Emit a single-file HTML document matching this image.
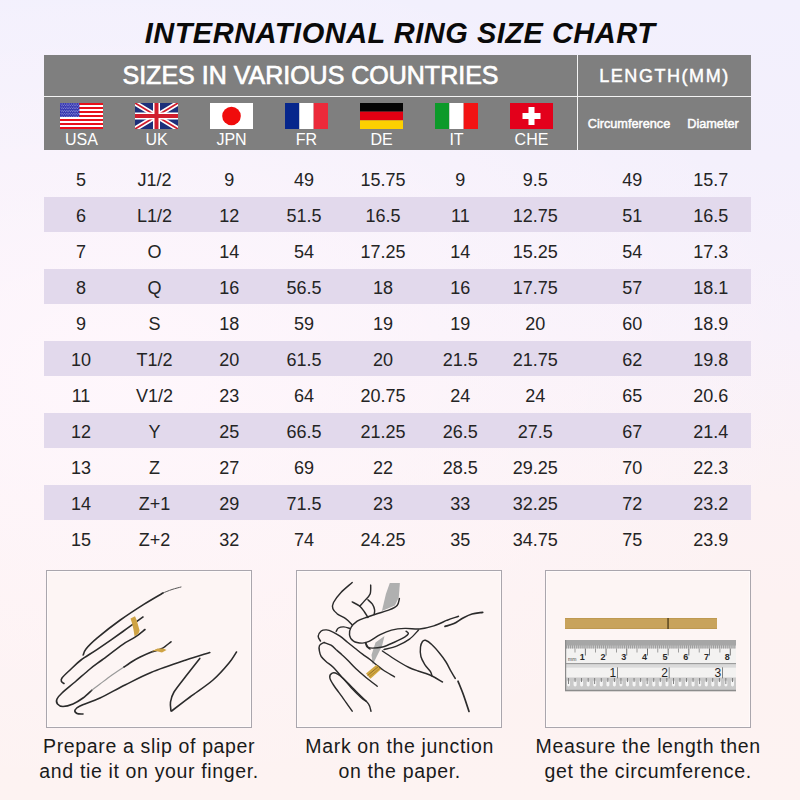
<!DOCTYPE html><html><head><meta charset="utf-8"><style>
*{margin:0;padding:0;box-sizing:border-box}
html,body{width:800px;height:800px;overflow:hidden}
body{position:relative;font-family:'Liberation Sans', sans-serif;color:#1e1e1e;
background:radial-gradient(ellipse 700px 420px at 120px 370px,rgba(255,247,252,0.95),rgba(255,247,252,0.5) 45%,rgba(255,247,252,0) 100%),linear-gradient(180deg,#f2f0fd 0%,#f4f0fc 20%,#f8f1fa 42%,#fcf2f4 62%,#fdf2f2 75%,#fdf3f2 100%);}
.a{position:absolute;white-space:nowrap}
.c{position:absolute;white-space:nowrap;text-align:center;width:200px}

</style></head><body>
<div class="c" style="left:0;width:800px;top:19px;font:italic bold 29px/29px 'Liberation Sans', sans-serif;color:#0a0a0a;letter-spacing:0.5px;padding-left:0px">INTERNATIONAL RING SIZE CHART</div>
<div class="a" style="left:44px;top:55px;width:707px;height:95px;background:#7f7f7f"></div>
<div class="a" style="left:44px;top:96px;width:707px;height:1.2px;background:#f4f4f4"></div>
<div class="a" style="left:577px;top:55px;width:1.3px;height:95px;background:#f4f4f4"></div>
<div class="c" style="left:44px;width:533px;top:63px;font:25px/25px 'Liberation Sans', sans-serif;color:#fff;-webkit-text-stroke:0.7px #fff">SIZES IN VARIOUS COUNTRIES</div>
<div class="c" style="left:578px;width:173px;top:67px;font:18px/18px 'Liberation Sans', sans-serif;letter-spacing:1.55px;padding-left:0px;color:#fff;-webkit-text-stroke:0.45px #fff">LENGTH(MM)</div>
<div class="c" style="left:529px;width:200px;top:118px;font:12.7px/12px 'Liberation Sans', sans-serif;color:#fff;-webkit-text-stroke:0.45px #fff">Circumference</div>
<div class="c" style="left:613px;width:200px;top:118px;font:12.7px/12px 'Liberation Sans', sans-serif;color:#fff;-webkit-text-stroke:0.45px #fff">Diameter</div>
<div class="c" style="left:-18.5px;top:131.5px;font:16px/16px 'Liberation Sans', sans-serif;color:#fff">USA</div>
<div class="c" style="left:56.5px;top:131.5px;font:16px/16px 'Liberation Sans', sans-serif;color:#fff">UK</div>
<div class="c" style="left:131.5px;top:131.5px;font:16px/16px 'Liberation Sans', sans-serif;color:#fff">JPN</div>
<div class="c" style="left:206.5px;top:131.5px;font:16px/16px 'Liberation Sans', sans-serif;color:#fff">FR</div>
<div class="c" style="left:281.5px;top:131.5px;font:16px/16px 'Liberation Sans', sans-serif;color:#fff">DE</div>
<div class="c" style="left:356.5px;top:131.5px;font:16px/16px 'Liberation Sans', sans-serif;color:#fff">IT</div>
<div class="c" style="left:431.5px;top:131.5px;font:16px/16px 'Liberation Sans', sans-serif;color:#fff">CHE</div>
<svg class="a" style="left:60px;top:103px" width="43" height="26" viewBox="0 0 43 26"><rect x="0" y="0.00" width="43" height="2.30" fill="#e8101a"/><rect x="0" y="2.00" width="43" height="2.30" fill="#ffffff"/><rect x="0" y="4.00" width="43" height="2.30" fill="#e8101a"/><rect x="0" y="6.00" width="43" height="2.30" fill="#ffffff"/><rect x="0" y="8.00" width="43" height="2.30" fill="#e8101a"/><rect x="0" y="10.00" width="43" height="2.30" fill="#ffffff"/><rect x="0" y="12.00" width="43" height="2.30" fill="#e8101a"/><rect x="0" y="14.00" width="43" height="2.30" fill="#ffffff"/><rect x="0" y="16.00" width="43" height="2.30" fill="#e8101a"/><rect x="0" y="18.00" width="43" height="2.30" fill="#ffffff"/><rect x="0" y="20.00" width="43" height="2.30" fill="#e8101a"/><rect x="0" y="22.00" width="43" height="2.30" fill="#ffffff"/><rect x="0" y="24.00" width="43" height="2.30" fill="#e8101a"/><rect x="0" y="0" width="19.4" height="14.00" fill="#3537b0"/><circle cx="1.00" cy="1.00" r="0.42" fill="#e8e8ff"/><circle cx="2.75" cy="1.00" r="0.42" fill="#e8e8ff"/><circle cx="4.50" cy="1.00" r="0.42" fill="#e8e8ff"/><circle cx="6.25" cy="1.00" r="0.42" fill="#e8e8ff"/><circle cx="8.00" cy="1.00" r="0.42" fill="#e8e8ff"/><circle cx="9.75" cy="1.00" r="0.42" fill="#e8e8ff"/><circle cx="11.50" cy="1.00" r="0.42" fill="#e8e8ff"/><circle cx="13.25" cy="1.00" r="0.42" fill="#e8e8ff"/><circle cx="15.00" cy="1.00" r="0.42" fill="#e8e8ff"/><circle cx="16.75" cy="1.00" r="0.42" fill="#e8e8ff"/><circle cx="18.50" cy="1.00" r="0.42" fill="#e8e8ff"/><circle cx="1.87" cy="2.55" r="0.42" fill="#e8e8ff"/><circle cx="3.62" cy="2.55" r="0.42" fill="#e8e8ff"/><circle cx="5.37" cy="2.55" r="0.42" fill="#e8e8ff"/><circle cx="7.12" cy="2.55" r="0.42" fill="#e8e8ff"/><circle cx="8.87" cy="2.55" r="0.42" fill="#e8e8ff"/><circle cx="10.62" cy="2.55" r="0.42" fill="#e8e8ff"/><circle cx="12.37" cy="2.55" r="0.42" fill="#e8e8ff"/><circle cx="14.12" cy="2.55" r="0.42" fill="#e8e8ff"/><circle cx="15.87" cy="2.55" r="0.42" fill="#e8e8ff"/><circle cx="17.62" cy="2.55" r="0.42" fill="#e8e8ff"/><circle cx="1.00" cy="4.10" r="0.42" fill="#e8e8ff"/><circle cx="2.75" cy="4.10" r="0.42" fill="#e8e8ff"/><circle cx="4.50" cy="4.10" r="0.42" fill="#e8e8ff"/><circle cx="6.25" cy="4.10" r="0.42" fill="#e8e8ff"/><circle cx="8.00" cy="4.10" r="0.42" fill="#e8e8ff"/><circle cx="9.75" cy="4.10" r="0.42" fill="#e8e8ff"/><circle cx="11.50" cy="4.10" r="0.42" fill="#e8e8ff"/><circle cx="13.25" cy="4.10" r="0.42" fill="#e8e8ff"/><circle cx="15.00" cy="4.10" r="0.42" fill="#e8e8ff"/><circle cx="16.75" cy="4.10" r="0.42" fill="#e8e8ff"/><circle cx="18.50" cy="4.10" r="0.42" fill="#e8e8ff"/><circle cx="1.87" cy="5.65" r="0.42" fill="#e8e8ff"/><circle cx="3.62" cy="5.65" r="0.42" fill="#e8e8ff"/><circle cx="5.37" cy="5.65" r="0.42" fill="#e8e8ff"/><circle cx="7.12" cy="5.65" r="0.42" fill="#e8e8ff"/><circle cx="8.87" cy="5.65" r="0.42" fill="#e8e8ff"/><circle cx="10.62" cy="5.65" r="0.42" fill="#e8e8ff"/><circle cx="12.37" cy="5.65" r="0.42" fill="#e8e8ff"/><circle cx="14.12" cy="5.65" r="0.42" fill="#e8e8ff"/><circle cx="15.87" cy="5.65" r="0.42" fill="#e8e8ff"/><circle cx="17.62" cy="5.65" r="0.42" fill="#e8e8ff"/><circle cx="1.00" cy="7.20" r="0.42" fill="#e8e8ff"/><circle cx="2.75" cy="7.20" r="0.42" fill="#e8e8ff"/><circle cx="4.50" cy="7.20" r="0.42" fill="#e8e8ff"/><circle cx="6.25" cy="7.20" r="0.42" fill="#e8e8ff"/><circle cx="8.00" cy="7.20" r="0.42" fill="#e8e8ff"/><circle cx="9.75" cy="7.20" r="0.42" fill="#e8e8ff"/><circle cx="11.50" cy="7.20" r="0.42" fill="#e8e8ff"/><circle cx="13.25" cy="7.20" r="0.42" fill="#e8e8ff"/><circle cx="15.00" cy="7.20" r="0.42" fill="#e8e8ff"/><circle cx="16.75" cy="7.20" r="0.42" fill="#e8e8ff"/><circle cx="18.50" cy="7.20" r="0.42" fill="#e8e8ff"/><circle cx="1.87" cy="8.75" r="0.42" fill="#e8e8ff"/><circle cx="3.62" cy="8.75" r="0.42" fill="#e8e8ff"/><circle cx="5.37" cy="8.75" r="0.42" fill="#e8e8ff"/><circle cx="7.12" cy="8.75" r="0.42" fill="#e8e8ff"/><circle cx="8.87" cy="8.75" r="0.42" fill="#e8e8ff"/><circle cx="10.62" cy="8.75" r="0.42" fill="#e8e8ff"/><circle cx="12.37" cy="8.75" r="0.42" fill="#e8e8ff"/><circle cx="14.12" cy="8.75" r="0.42" fill="#e8e8ff"/><circle cx="15.87" cy="8.75" r="0.42" fill="#e8e8ff"/><circle cx="17.62" cy="8.75" r="0.42" fill="#e8e8ff"/><circle cx="1.00" cy="10.30" r="0.42" fill="#e8e8ff"/><circle cx="2.75" cy="10.30" r="0.42" fill="#e8e8ff"/><circle cx="4.50" cy="10.30" r="0.42" fill="#e8e8ff"/><circle cx="6.25" cy="10.30" r="0.42" fill="#e8e8ff"/><circle cx="8.00" cy="10.30" r="0.42" fill="#e8e8ff"/><circle cx="9.75" cy="10.30" r="0.42" fill="#e8e8ff"/><circle cx="11.50" cy="10.30" r="0.42" fill="#e8e8ff"/><circle cx="13.25" cy="10.30" r="0.42" fill="#e8e8ff"/><circle cx="15.00" cy="10.30" r="0.42" fill="#e8e8ff"/><circle cx="16.75" cy="10.30" r="0.42" fill="#e8e8ff"/><circle cx="18.50" cy="10.30" r="0.42" fill="#e8e8ff"/><circle cx="1.87" cy="11.85" r="0.42" fill="#e8e8ff"/><circle cx="3.62" cy="11.85" r="0.42" fill="#e8e8ff"/><circle cx="5.37" cy="11.85" r="0.42" fill="#e8e8ff"/><circle cx="7.12" cy="11.85" r="0.42" fill="#e8e8ff"/><circle cx="8.87" cy="11.85" r="0.42" fill="#e8e8ff"/><circle cx="10.62" cy="11.85" r="0.42" fill="#e8e8ff"/><circle cx="12.37" cy="11.85" r="0.42" fill="#e8e8ff"/><circle cx="14.12" cy="11.85" r="0.42" fill="#e8e8ff"/><circle cx="15.87" cy="11.85" r="0.42" fill="#e8e8ff"/><circle cx="17.62" cy="11.85" r="0.42" fill="#e8e8ff"/><circle cx="1.00" cy="13.40" r="0.42" fill="#e8e8ff"/><circle cx="2.75" cy="13.40" r="0.42" fill="#e8e8ff"/><circle cx="4.50" cy="13.40" r="0.42" fill="#e8e8ff"/><circle cx="6.25" cy="13.40" r="0.42" fill="#e8e8ff"/><circle cx="8.00" cy="13.40" r="0.42" fill="#e8e8ff"/><circle cx="9.75" cy="13.40" r="0.42" fill="#e8e8ff"/><circle cx="11.50" cy="13.40" r="0.42" fill="#e8e8ff"/><circle cx="13.25" cy="13.40" r="0.42" fill="#e8e8ff"/><circle cx="15.00" cy="13.40" r="0.42" fill="#e8e8ff"/><circle cx="16.75" cy="13.40" r="0.42" fill="#e8e8ff"/><circle cx="18.50" cy="13.40" r="0.42" fill="#e8e8ff"/></svg>
<svg class="a" style="left:135px;top:103px" width="43" height="26" viewBox="0 0 43 26"><rect width="43" height="26" fill="#1d2f7a"/><path d="M0 0L43 26M43 0L0 26" stroke="#fff" stroke-width="5"/><path d="M0 0L43 26M43 0L0 26" stroke="#d01c2c" stroke-width="1.8"/><path d="M21.5 0V26M0 13.0H43" stroke="#fff" stroke-width="7"/><path d="M21.5 0V26M0 13.0H43" stroke="#d01c2c" stroke-width="4"/></svg>
<svg class="a" style="left:210px;top:103px" width="43" height="26" viewBox="0 0 43 26"><rect width="43" height="26" fill="#fff"/><circle cx="21.5" cy="13.0" r="9.3" fill="#f00c0c"/></svg>
<svg class="a" style="left:285px;top:103px" width="43" height="26" viewBox="0 0 43 26"><rect width="14.33" height="26" fill="#06268c"/><rect x="14.33" width="14.33" height="26" fill="#fff"/><rect x="28.67" width="14.33" height="26" fill="#ec2a3a"/></svg>
<svg class="a" style="left:360px;top:103px" width="43" height="26" viewBox="0 0 43 26"><rect width="43" height="8.67" fill="#050505"/><rect y="8.67" width="43" height="8.67" fill="#e30012"/><rect y="17.33" width="43" height="8.67" fill="#fcd000"/></svg>
<svg class="a" style="left:435px;top:103px" width="43" height="26" viewBox="0 0 43 26"><rect width="14.33" height="26" fill="#0c9a2a"/><rect x="14.33" width="14.33" height="26" fill="#fff"/><rect x="28.67" width="14.33" height="26" fill="#f21313"/></svg>
<svg class="a" style="left:510px;top:103px" width="43" height="26" viewBox="0 0 43 26"><rect width="43" height="26" fill="#e3001b"/><rect x="18.5" y="4" width="6" height="18" fill="#fff"/><rect x="12.5" y="10.0" width="18" height="6" fill="#fff"/></svg>
<div class="c" style="left:-19.0px;top:171.3px;font:18px/18px 'Liberation Sans', sans-serif;color:#242424">5</div>
<div class="c" style="left:54.5px;top:171.3px;font:18px/18px 'Liberation Sans', sans-serif;color:#242424">J1/2</div>
<div class="c" style="left:129.3px;top:171.3px;font:18px/18px 'Liberation Sans', sans-serif;color:#242424">9</div>
<div class="c" style="left:204.0px;top:171.3px;font:18px/18px 'Liberation Sans', sans-serif;color:#242424">49</div>
<div class="c" style="left:283.0px;top:171.3px;font:18px/18px 'Liberation Sans', sans-serif;color:#242424">15.75</div>
<div class="c" style="left:360.3px;top:171.3px;font:18px/18px 'Liberation Sans', sans-serif;color:#242424">9</div>
<div class="c" style="left:435.3px;top:171.3px;font:18px/18px 'Liberation Sans', sans-serif;color:#242424">9.5</div>
<div class="c" style="left:532.3px;top:171.3px;font:18px/18px 'Liberation Sans', sans-serif;color:#242424">49</div>
<div class="c" style="left:610.8px;top:171.3px;font:18px/18px 'Liberation Sans', sans-serif;color:#242424">15.7</div>
<div class="a" style="left:44px;top:197.2px;width:707px;height:34.6px;background:#e2d9ec"></div>
<div class="c" style="left:-19.0px;top:207.3px;font:18px/18px 'Liberation Sans', sans-serif;color:#242424">6</div>
<div class="c" style="left:54.5px;top:207.3px;font:18px/18px 'Liberation Sans', sans-serif;color:#242424">L1/2</div>
<div class="c" style="left:129.3px;top:207.3px;font:18px/18px 'Liberation Sans', sans-serif;color:#242424">12</div>
<div class="c" style="left:204.0px;top:207.3px;font:18px/18px 'Liberation Sans', sans-serif;color:#242424">51.5</div>
<div class="c" style="left:283.0px;top:207.3px;font:18px/18px 'Liberation Sans', sans-serif;color:#242424">16.5</div>
<div class="c" style="left:360.3px;top:207.3px;font:18px/18px 'Liberation Sans', sans-serif;color:#242424">11</div>
<div class="c" style="left:435.3px;top:207.3px;font:18px/18px 'Liberation Sans', sans-serif;color:#242424">12.75</div>
<div class="c" style="left:532.3px;top:207.3px;font:18px/18px 'Liberation Sans', sans-serif;color:#242424">51</div>
<div class="c" style="left:610.8px;top:207.3px;font:18px/18px 'Liberation Sans', sans-serif;color:#242424">16.5</div>
<div class="c" style="left:-19.0px;top:243.3px;font:18px/18px 'Liberation Sans', sans-serif;color:#242424">7</div>
<div class="c" style="left:54.5px;top:243.3px;font:18px/18px 'Liberation Sans', sans-serif;color:#242424">O</div>
<div class="c" style="left:129.3px;top:243.3px;font:18px/18px 'Liberation Sans', sans-serif;color:#242424">14</div>
<div class="c" style="left:204.0px;top:243.3px;font:18px/18px 'Liberation Sans', sans-serif;color:#242424">54</div>
<div class="c" style="left:283.0px;top:243.3px;font:18px/18px 'Liberation Sans', sans-serif;color:#242424">17.25</div>
<div class="c" style="left:360.3px;top:243.3px;font:18px/18px 'Liberation Sans', sans-serif;color:#242424">14</div>
<div class="c" style="left:435.3px;top:243.3px;font:18px/18px 'Liberation Sans', sans-serif;color:#242424">15.25</div>
<div class="c" style="left:532.3px;top:243.3px;font:18px/18px 'Liberation Sans', sans-serif;color:#242424">54</div>
<div class="c" style="left:610.8px;top:243.3px;font:18px/18px 'Liberation Sans', sans-serif;color:#242424">17.3</div>
<div class="a" style="left:44px;top:269.2px;width:707px;height:34.6px;background:#e2d9ec"></div>
<div class="c" style="left:-19.0px;top:279.3px;font:18px/18px 'Liberation Sans', sans-serif;color:#242424">8</div>
<div class="c" style="left:54.5px;top:279.3px;font:18px/18px 'Liberation Sans', sans-serif;color:#242424">Q</div>
<div class="c" style="left:129.3px;top:279.3px;font:18px/18px 'Liberation Sans', sans-serif;color:#242424">16</div>
<div class="c" style="left:204.0px;top:279.3px;font:18px/18px 'Liberation Sans', sans-serif;color:#242424">56.5</div>
<div class="c" style="left:283.0px;top:279.3px;font:18px/18px 'Liberation Sans', sans-serif;color:#242424">18</div>
<div class="c" style="left:360.3px;top:279.3px;font:18px/18px 'Liberation Sans', sans-serif;color:#242424">16</div>
<div class="c" style="left:435.3px;top:279.3px;font:18px/18px 'Liberation Sans', sans-serif;color:#242424">17.75</div>
<div class="c" style="left:532.3px;top:279.3px;font:18px/18px 'Liberation Sans', sans-serif;color:#242424">57</div>
<div class="c" style="left:610.8px;top:279.3px;font:18px/18px 'Liberation Sans', sans-serif;color:#242424">18.1</div>
<div class="c" style="left:-19.0px;top:315.3px;font:18px/18px 'Liberation Sans', sans-serif;color:#242424">9</div>
<div class="c" style="left:54.5px;top:315.3px;font:18px/18px 'Liberation Sans', sans-serif;color:#242424">S</div>
<div class="c" style="left:129.3px;top:315.3px;font:18px/18px 'Liberation Sans', sans-serif;color:#242424">18</div>
<div class="c" style="left:204.0px;top:315.3px;font:18px/18px 'Liberation Sans', sans-serif;color:#242424">59</div>
<div class="c" style="left:283.0px;top:315.3px;font:18px/18px 'Liberation Sans', sans-serif;color:#242424">19</div>
<div class="c" style="left:360.3px;top:315.3px;font:18px/18px 'Liberation Sans', sans-serif;color:#242424">19</div>
<div class="c" style="left:435.3px;top:315.3px;font:18px/18px 'Liberation Sans', sans-serif;color:#242424">20</div>
<div class="c" style="left:532.3px;top:315.3px;font:18px/18px 'Liberation Sans', sans-serif;color:#242424">60</div>
<div class="c" style="left:610.8px;top:315.3px;font:18px/18px 'Liberation Sans', sans-serif;color:#242424">18.9</div>
<div class="a" style="left:44px;top:341.2px;width:707px;height:34.6px;background:#e2d9ec"></div>
<div class="c" style="left:-19.0px;top:351.3px;font:18px/18px 'Liberation Sans', sans-serif;color:#242424">10</div>
<div class="c" style="left:54.5px;top:351.3px;font:18px/18px 'Liberation Sans', sans-serif;color:#242424">T1/2</div>
<div class="c" style="left:129.3px;top:351.3px;font:18px/18px 'Liberation Sans', sans-serif;color:#242424">20</div>
<div class="c" style="left:204.0px;top:351.3px;font:18px/18px 'Liberation Sans', sans-serif;color:#242424">61.5</div>
<div class="c" style="left:283.0px;top:351.3px;font:18px/18px 'Liberation Sans', sans-serif;color:#242424">20</div>
<div class="c" style="left:360.3px;top:351.3px;font:18px/18px 'Liberation Sans', sans-serif;color:#242424">21.5</div>
<div class="c" style="left:435.3px;top:351.3px;font:18px/18px 'Liberation Sans', sans-serif;color:#242424">21.75</div>
<div class="c" style="left:532.3px;top:351.3px;font:18px/18px 'Liberation Sans', sans-serif;color:#242424">62</div>
<div class="c" style="left:610.8px;top:351.3px;font:18px/18px 'Liberation Sans', sans-serif;color:#242424">19.8</div>
<div class="c" style="left:-19.0px;top:387.3px;font:18px/18px 'Liberation Sans', sans-serif;color:#242424">11</div>
<div class="c" style="left:54.5px;top:387.3px;font:18px/18px 'Liberation Sans', sans-serif;color:#242424">V1/2</div>
<div class="c" style="left:129.3px;top:387.3px;font:18px/18px 'Liberation Sans', sans-serif;color:#242424">23</div>
<div class="c" style="left:204.0px;top:387.3px;font:18px/18px 'Liberation Sans', sans-serif;color:#242424">64</div>
<div class="c" style="left:283.0px;top:387.3px;font:18px/18px 'Liberation Sans', sans-serif;color:#242424">20.75</div>
<div class="c" style="left:360.3px;top:387.3px;font:18px/18px 'Liberation Sans', sans-serif;color:#242424">24</div>
<div class="c" style="left:435.3px;top:387.3px;font:18px/18px 'Liberation Sans', sans-serif;color:#242424">24</div>
<div class="c" style="left:532.3px;top:387.3px;font:18px/18px 'Liberation Sans', sans-serif;color:#242424">65</div>
<div class="c" style="left:610.8px;top:387.3px;font:18px/18px 'Liberation Sans', sans-serif;color:#242424">20.6</div>
<div class="a" style="left:44px;top:413.2px;width:707px;height:34.6px;background:#e2d9ec"></div>
<div class="c" style="left:-19.0px;top:423.3px;font:18px/18px 'Liberation Sans', sans-serif;color:#242424">12</div>
<div class="c" style="left:54.5px;top:423.3px;font:18px/18px 'Liberation Sans', sans-serif;color:#242424">Y</div>
<div class="c" style="left:129.3px;top:423.3px;font:18px/18px 'Liberation Sans', sans-serif;color:#242424">25</div>
<div class="c" style="left:204.0px;top:423.3px;font:18px/18px 'Liberation Sans', sans-serif;color:#242424">66.5</div>
<div class="c" style="left:283.0px;top:423.3px;font:18px/18px 'Liberation Sans', sans-serif;color:#242424">21.25</div>
<div class="c" style="left:360.3px;top:423.3px;font:18px/18px 'Liberation Sans', sans-serif;color:#242424">26.5</div>
<div class="c" style="left:435.3px;top:423.3px;font:18px/18px 'Liberation Sans', sans-serif;color:#242424">27.5</div>
<div class="c" style="left:532.3px;top:423.3px;font:18px/18px 'Liberation Sans', sans-serif;color:#242424">67</div>
<div class="c" style="left:610.8px;top:423.3px;font:18px/18px 'Liberation Sans', sans-serif;color:#242424">21.4</div>
<div class="c" style="left:-19.0px;top:459.3px;font:18px/18px 'Liberation Sans', sans-serif;color:#242424">13</div>
<div class="c" style="left:54.5px;top:459.3px;font:18px/18px 'Liberation Sans', sans-serif;color:#242424">Z</div>
<div class="c" style="left:129.3px;top:459.3px;font:18px/18px 'Liberation Sans', sans-serif;color:#242424">27</div>
<div class="c" style="left:204.0px;top:459.3px;font:18px/18px 'Liberation Sans', sans-serif;color:#242424">69</div>
<div class="c" style="left:283.0px;top:459.3px;font:18px/18px 'Liberation Sans', sans-serif;color:#242424">22</div>
<div class="c" style="left:360.3px;top:459.3px;font:18px/18px 'Liberation Sans', sans-serif;color:#242424">28.5</div>
<div class="c" style="left:435.3px;top:459.3px;font:18px/18px 'Liberation Sans', sans-serif;color:#242424">29.25</div>
<div class="c" style="left:532.3px;top:459.3px;font:18px/18px 'Liberation Sans', sans-serif;color:#242424">70</div>
<div class="c" style="left:610.8px;top:459.3px;font:18px/18px 'Liberation Sans', sans-serif;color:#242424">22.3</div>
<div class="a" style="left:44px;top:485.2px;width:707px;height:34.6px;background:#e2d9ec"></div>
<div class="c" style="left:-19.0px;top:495.3px;font:18px/18px 'Liberation Sans', sans-serif;color:#242424">14</div>
<div class="c" style="left:54.5px;top:495.3px;font:18px/18px 'Liberation Sans', sans-serif;color:#242424">Z+1</div>
<div class="c" style="left:129.3px;top:495.3px;font:18px/18px 'Liberation Sans', sans-serif;color:#242424">29</div>
<div class="c" style="left:204.0px;top:495.3px;font:18px/18px 'Liberation Sans', sans-serif;color:#242424">71.5</div>
<div class="c" style="left:283.0px;top:495.3px;font:18px/18px 'Liberation Sans', sans-serif;color:#242424">23</div>
<div class="c" style="left:360.3px;top:495.3px;font:18px/18px 'Liberation Sans', sans-serif;color:#242424">33</div>
<div class="c" style="left:435.3px;top:495.3px;font:18px/18px 'Liberation Sans', sans-serif;color:#242424">32.25</div>
<div class="c" style="left:532.3px;top:495.3px;font:18px/18px 'Liberation Sans', sans-serif;color:#242424">72</div>
<div class="c" style="left:610.8px;top:495.3px;font:18px/18px 'Liberation Sans', sans-serif;color:#242424">23.2</div>
<div class="c" style="left:-19.0px;top:531.3px;font:18px/18px 'Liberation Sans', sans-serif;color:#242424">15</div>
<div class="c" style="left:54.5px;top:531.3px;font:18px/18px 'Liberation Sans', sans-serif;color:#242424">Z+2</div>
<div class="c" style="left:129.3px;top:531.3px;font:18px/18px 'Liberation Sans', sans-serif;color:#242424">32</div>
<div class="c" style="left:204.0px;top:531.3px;font:18px/18px 'Liberation Sans', sans-serif;color:#242424">74</div>
<div class="c" style="left:283.0px;top:531.3px;font:18px/18px 'Liberation Sans', sans-serif;color:#242424">24.25</div>
<div class="c" style="left:360.3px;top:531.3px;font:18px/18px 'Liberation Sans', sans-serif;color:#242424">35</div>
<div class="c" style="left:435.3px;top:531.3px;font:18px/18px 'Liberation Sans', sans-serif;color:#242424">34.75</div>
<div class="c" style="left:532.3px;top:531.3px;font:18px/18px 'Liberation Sans', sans-serif;color:#242424">75</div>
<div class="c" style="left:610.8px;top:531.3px;font:18px/18px 'Liberation Sans', sans-serif;color:#242424">23.9</div>
<div class="a" style="left:46px;top:570px;width:205.5px;height:157.5px;border:1.6px solid #aaa6ad;box-shadow:inset 0 0 0 1px #fffafa;background:#fdf5f4"></div>
<div class="a" style="left:296px;top:570px;width:206.0px;height:157.5px;border:1.6px solid #aaa6ad;box-shadow:inset 0 0 0 1px #fffafa;background:#fdf5f4"></div>
<div class="a" style="left:544.5px;top:570px;width:206.0px;height:157.5px;border:1.6px solid #aaa6ad;box-shadow:inset 0 0 0 1px #fffafa;background:#fdf5f4"></div>
<svg class="a" style="left:0;top:0" width="800" height="800" viewBox="0 0 800 800"><path d="M181.0 587.0C179.5 587.4 175.0 588.5 172.0 589.5C169.0 590.5 164.5 592.4 163.0 593.0" fill="none" stroke="#555" stroke-width="1.0" stroke-linecap="round" stroke-linejoin="round" opacity="1"/><path d="M163.0 593.0C159.7 594.9 150.5 600.1 143.4 604.6C136.3 609.1 128.0 614.5 120.3 620.0C112.6 625.5 103.0 633.1 97.3 637.9C91.6 642.7 88.3 646.1 86.0 649.0C83.7 651.9 83.7 654.0 83.2 655.0" fill="none" stroke="#2b2b2b" stroke-width="1.6" stroke-linecap="round" stroke-linejoin="round" opacity="1"/><path d="M143.0 617.0C139.7 619.4 130.5 626.1 122.9 631.5C115.3 636.9 104.3 644.6 97.3 649.4C90.3 654.1 85.5 656.6 81.0 660.0C76.5 663.4 73.2 667.0 70.0 670.0C66.8 673.0 63.4 676.1 62.0 678.0C60.6 679.9 61.2 680.6 61.5 681.5C61.8 682.4 63.6 683.2 64.0 683.5" fill="none" stroke="#2b2b2b" stroke-width="1.6" stroke-linecap="round" stroke-linejoin="round" opacity="1"/><path d="M145.0 629.5C143.3 630.8 138.7 634.8 135.0 637.2C131.3 639.7 128.4 640.5 122.9 644.3C117.4 648.1 107.5 655.9 102.0 660.0C96.5 664.1 94.5 665.3 90.0 669.0C85.5 672.7 79.7 678.0 75.0 682.0C70.3 686.0 65.0 690.2 62.0 693.0C59.0 695.8 57.8 697.2 57.0 699.0C56.2 700.8 56.5 702.8 57.5 704.0C58.5 705.2 60.4 706.5 63.0 706.5C65.6 706.5 69.7 705.4 73.0 704.0C76.3 702.6 79.8 700.3 83.0 698.0C86.2 695.7 90.5 691.3 92.0 690.0" fill="none" stroke="#2b2b2b" stroke-width="1.6" stroke-linecap="round" stroke-linejoin="round" opacity="1"/><path d="M92.0 690.0C93.3 689.0 96.7 686.5 100.0 684.0C103.3 681.5 108.0 677.8 112.0 675.0C116.0 672.2 122.0 668.3 124.0 667.0" fill="none" stroke="#9a9a9a" stroke-width="1.2" stroke-linecap="round" stroke-linejoin="round" opacity="1"/><path d="M124.0 667.0C125.5 666.0 130.3 662.7 133.0 661.0C135.7 659.3 137.2 658.5 140.2 657.0C143.3 655.5 147.9 653.4 151.5 652.0C155.1 650.6 158.8 650.2 162.0 648.5C165.2 646.8 169.5 642.9 171.0 641.8" fill="none" stroke="#2b2b2b" stroke-width="1.6" stroke-linecap="round" stroke-linejoin="round" opacity="1"/><path d="M209.8 652.5C205.8 653.8 195.8 656.7 186.0 660.0C176.2 663.3 161.2 668.3 151.0 672.5C140.8 676.7 133.5 680.8 125.0 685.0C116.5 689.2 107.5 694.5 100.0 698.0C92.5 701.5 84.2 704.0 80.0 706.0C75.8 708.0 75.5 708.8 75.0 710.0C74.5 711.2 75.7 712.8 77.0 713.5C78.3 714.2 82.0 713.9 83.0 714.0" fill="none" stroke="#2b2b2b" stroke-width="1.6" stroke-linecap="round" stroke-linejoin="round" opacity="1"/><path d="M199.8 658.4C197.5 661.3 190.3 670.4 186.0 676.0C181.7 681.6 176.6 687.7 174.0 692.0C171.4 696.3 171.0 698.8 170.5 702.0C170.0 705.2 170.9 709.5 171.0 711.0" fill="none" stroke="#2b2b2b" stroke-width="1.6" stroke-linecap="round" stroke-linejoin="round" opacity="1"/><path d="M236.5 652.0C235.2 653.8 232.9 658.3 229.0 663.0C225.1 667.7 219.5 674.3 213.0 680.0C206.5 685.7 196.9 691.8 190.0 697.0C183.1 702.2 174.7 708.7 171.6 711.0" fill="none" stroke="#2b2b2b" stroke-width="1.6" stroke-linecap="round" stroke-linejoin="round" opacity="1"/><path d="M130.5 618.5L135.0 616.2L136.6 620.0L139.6 630.5L138.5 633.5L134.6 636.5L133.5 629.8L132.0 623.0Z" fill="#cfa344"/><path d="M151.5 651.5L157.5 648.5L163.5 648.5L166.5 650.0L162.0 652.5L156.0 651.0Z" fill="#cfa344"/><path d="M389.8 582.9L399.9 582.9L398.8 597.5L394.9 605.4L381.9 611.0L385.9 594.1Z" fill="#b0b0b0"/><path d="M384.5 636.0L382.0 646.0L377.0 656.0L372.8 664.5L371.5 655.0L375.5 642.5Z" fill="#b0b0b0"/><path d="M352.2 582.5C350.4 584.2 344.1 589.2 341.0 592.5C337.9 595.8 334.9 599.8 333.5 602.5C332.1 605.2 332.3 606.9 332.9 608.8C333.5 610.6 335.1 612.1 337.2 613.8C339.4 615.4 343.5 616.9 346.0 618.8C348.5 620.6 351.2 624.0 352.2 625.0" fill="none" stroke="#2b2b2b" stroke-width="1.45" stroke-linecap="round" stroke-linejoin="round" opacity="1"/><path d="M370.7 585.1C370.6 586.6 371.1 591.5 370.1 594.1C369.1 596.7 366.2 598.9 364.5 600.9C362.8 602.9 360.5 605.4 359.8 606.2" fill="none" stroke="#2b2b2b" stroke-width="1.45" stroke-linecap="round" stroke-linejoin="round" opacity="1"/><path d="M352.2 601.9C353.5 602.6 357.7 604.6 359.8 606.2C361.8 607.9 363.1 610.1 364.5 612.0C365.9 613.9 367.4 616.6 368.0 617.5" fill="none" stroke="#2b2b2b" stroke-width="1.45" stroke-linecap="round" stroke-linejoin="round" opacity="1"/><path d="M367.9 599.8C368.6 600.5 371.3 602.6 372.4 604.2C373.5 605.9 374.3 608.2 374.6 609.9C374.9 611.6 374.2 613.6 374.1 614.4" fill="none" stroke="#2b2b2b" stroke-width="1.45" stroke-linecap="round" stroke-linejoin="round" opacity="1"/><path d="M399.4 598.6C399.0 599.7 398.8 603.5 397.1 605.4C395.4 607.3 392.6 608.5 389.2 609.9C385.9 611.3 380.6 612.6 376.9 613.8C373.1 615.0 370.0 616.0 366.8 617.2C363.5 618.4 359.9 619.5 357.2 621.2C354.6 623.0 352.3 625.2 351.0 627.5C349.7 629.8 349.1 632.7 349.5 635.0C349.9 637.3 351.4 639.9 353.5 641.2C355.6 642.6 359.7 643.1 362.2 643.1C364.8 643.1 366.0 642.8 369.0 641.4C372.0 640.0 376.5 636.5 380.2 634.6C384.0 632.7 387.4 631.1 391.5 630.1C395.6 629.1 400.3 628.6 405.0 628.4C409.7 628.2 414.8 629.4 419.6 629.0C424.4 628.6 429.1 627.4 433.8 625.9C438.4 624.4 443.1 621.9 447.2 620.2C451.4 618.6 456.6 617.0 458.5 616.3" fill="none" stroke="#2b2b2b" stroke-width="1.45" stroke-linecap="round" stroke-linejoin="round" opacity="1"/><path d="M445.0 626.4C446.5 625.9 451.0 625.0 454.0 623.6C457.0 622.2 460.0 619.6 463.0 618.0C466.0 616.4 468.7 614.9 472.0 614.0C475.3 613.1 480.9 612.7 482.7 612.4" fill="none" stroke="#2b2b2b" stroke-width="1.7" stroke-linecap="round" stroke-linejoin="round" opacity="1"/><path d="M336.2 631.4C336.6 630.8 337.2 628.8 338.5 628.0C339.8 627.2 341.9 626.8 343.8 626.9C345.6 627.0 348.8 628.1 349.8 628.4" fill="none" stroke="#2b2b2b" stroke-width="1.45" stroke-linecap="round" stroke-linejoin="round" opacity="1"/><path d="M365.5 643.0C365.8 643.6 366.2 645.8 367.0 646.8C367.8 647.8 369.5 648.6 370.0 649.0" fill="none" stroke="#2b2b2b" stroke-width="1.45" stroke-linecap="round" stroke-linejoin="round" opacity="1"/><path d="M365.6 642.5C366.0 643.2 366.8 646.1 367.9 647.0C369.0 647.9 370.0 648.1 372.4 648.1C374.8 648.1 378.9 647.9 382.5 647.0C386.1 646.1 390.0 644.2 393.8 642.5C397.5 640.8 402.6 638.4 405.0 636.9C407.4 635.4 408.2 634.4 408.4 633.5C408.6 632.6 406.5 631.6 406.1 631.2" fill="none" stroke="#2b2b2b" stroke-width="1.45" stroke-linecap="round" stroke-linejoin="round" opacity="1"/><path d="M418.5 630.1C417.0 631.6 413.1 636.5 409.5 639.1C405.9 641.7 401.4 644.1 397.1 645.9C392.9 647.6 386.2 649.0 384.0 649.6" fill="none" stroke="#2b2b2b" stroke-width="1.45" stroke-linecap="round" stroke-linejoin="round" opacity="1"/><path d="M382.4 651.0C384.0 652.1 389.1 655.6 392.0 657.5C394.9 659.4 397.2 660.8 400.0 662.5C402.8 664.2 406.0 666.1 409.0 667.5C412.0 668.9 415.2 670.0 418.0 671.0C420.8 672.0 423.3 672.5 426.0 673.5C428.7 674.5 431.2 675.6 434.0 677.0C436.8 678.4 441.1 681.2 442.5 682.0" fill="none" stroke="#2b2b2b" stroke-width="1.45" stroke-linecap="round" stroke-linejoin="round" opacity="1"/><path d="M320.5 641.1C320.1 640.3 318.1 637.9 318.2 636.2C318.4 634.6 319.9 632.1 321.2 631.0C322.6 629.9 324.6 629.8 326.5 629.9C328.4 630.0 330.2 630.7 332.5 631.8C334.8 632.8 337.5 634.5 340.0 636.2C342.5 638.0 345.0 640.2 347.5 642.2C350.0 644.2 352.5 646.2 355.0 648.2C357.5 650.2 360.0 652.4 362.5 654.2C365.0 656.1 367.8 657.8 370.0 659.5C372.2 661.2 373.7 662.7 376.0 664.5C378.3 666.3 380.7 668.5 383.8 670.5C386.8 672.5 392.7 675.7 394.5 676.8" fill="none" stroke="#2b2b2b" stroke-width="1.45" stroke-linecap="round" stroke-linejoin="round" opacity="1"/><path d="M324.0 642.5C325.2 643.0 329.0 644.0 331.0 645.2C333.0 646.5 334.4 648.1 336.2 649.8C338.1 651.4 340.3 653.2 342.2 655.0C344.2 656.8 345.7 658.2 348.0 660.5C350.3 662.8 353.0 665.9 356.0 668.8C359.0 671.6 362.5 674.6 366.0 677.5C369.5 680.4 375.4 684.8 377.2 686.2" fill="none" stroke="#2b2b2b" stroke-width="1.45" stroke-linecap="round" stroke-linejoin="round" opacity="1"/><path d="M324.0 642.5C323.2 643.0 320.3 644.1 319.5 645.5C318.7 646.9 319.1 649.2 319.4 651.0C319.7 652.8 320.1 654.8 321.2 656.5C322.4 658.2 324.0 659.7 326.0 661.5C328.0 663.3 330.8 664.8 333.5 667.5C336.2 670.2 339.3 674.4 342.2 677.5C345.2 680.6 347.9 683.1 351.0 686.2C354.1 689.4 358.1 693.3 361.0 696.2C363.9 699.2 366.8 701.2 368.5 703.8C370.2 706.2 370.6 710.0 371.0 711.2" fill="none" stroke="#2b2b2b" stroke-width="1.45" stroke-linecap="round" stroke-linejoin="round" opacity="1"/><path d="M352.2 711.2C350.8 709.2 346.6 703.1 343.5 698.8C340.4 694.4 335.8 688.5 333.5 685.0C331.2 681.5 330.0 679.5 329.8 677.5C329.5 675.5 331.0 673.7 332.2 673.1C333.5 672.5 335.4 672.8 337.2 673.8C339.1 674.7 341.2 676.5 343.5 678.8C345.8 681.0 348.1 684.4 351.0 687.5C353.9 690.6 358.5 695.2 361.0 697.5C363.5 699.8 365.2 700.6 366.0 701.2" fill="none" stroke="#2b2b2b" stroke-width="1.45" stroke-linecap="round" stroke-linejoin="round" opacity="1"/><path d="M431.9 675.8C431.7 675.1 431.6 673.4 430.5 671.6C429.4 669.8 426.6 667.3 425.0 664.8C423.4 662.2 421.6 659.5 420.9 656.5C420.1 653.5 420.2 649.5 420.5 647.0C420.8 644.5 421.7 642.6 422.5 641.5C423.3 640.4 423.9 639.8 425.5 640.3C427.1 640.8 429.6 642.5 432.0 644.8C434.4 647.0 437.7 650.9 440.0 653.8C442.3 656.6 444.1 659.0 446.0 662.0C447.9 665.0 449.6 668.9 451.2 671.6C452.8 674.4 454.6 677.4 455.3 678.5" fill="none" stroke="#2b2b2b" stroke-width="1.45" stroke-linecap="round" stroke-linejoin="round" opacity="1"/><path d="M458.0 681.2C458.9 683.5 461.7 690.0 463.5 695.0C465.3 700.0 468.1 708.8 469.0 711.5" fill="none" stroke="#2b2b2b" stroke-width="1.7" stroke-linecap="round" stroke-linejoin="round" opacity="1"/><path d="M366.0 673.5L376.5 664.8L381.0 669.2L370.5 678.8Z" fill="#d3a840"/><path d="M367.8 675.3L378.3 666.6" fill="none" stroke="#8a6a25" stroke-width="0.9" stroke-linecap="round" stroke-linejoin="round" opacity="1"/><path d="M369.2 677.0L379.7 668.3" fill="none" stroke="#a07c30" stroke-width="0.7" stroke-linecap="round" stroke-linejoin="round" opacity="1"/><rect x="565" y="618" width="152" height="11" fill="#c8a35c"/><rect x="565" y="618" width="152" height="1" fill="#b8924a" opacity="0.6"/><rect x="565" y="628" width="152" height="1" fill="#b8924a" opacity="0.6"/><rect x="667.3" y="618" width="1.5" height="11" fill="#5a4620"/><rect x="565" y="640" width="171" height="51" fill="#c9c9c9"/><rect x="565" y="640" width="171" height="5.5" fill="#a6a6a6"/><rect x="566" y="648.5" width="170" height="14.5" fill="#f3f2f1"/><rect x="566" y="667.3" width="170" height="10.2" fill="#f3f2f1"/><rect x="565" y="663" width="171" height="1.3" fill="#9c9c9c"/><rect x="565" y="664.3" width="171" height="3" fill="#dadada"/><rect x="565" y="689.8" width="171" height="1.5" fill="#8c8c8c"/><rect x="565" y="640" width="1.2" height="51" fill="#8a8a8a"/><rect x="566.0" y="645.3" width="0.7" height="3.2" fill="#8d8d8d"/><rect x="568.1" y="645.3" width="0.7" height="3.2" fill="#8d8d8d"/><rect x="570.1" y="645.3" width="0.7" height="3.2" fill="#8d8d8d"/><rect x="572.2" y="645.3" width="0.7" height="3.2" fill="#8d8d8d"/><rect x="574.3" y="645.3" width="0.7" height="3.2" fill="#8d8d8d"/><rect x="576.4" y="645.3" width="0.7" height="3.2" fill="#8d8d8d"/><rect x="578.4" y="645.3" width="0.7" height="3.2" fill="#8d8d8d"/><rect x="580.5" y="645.3" width="0.7" height="3.2" fill="#8d8d8d"/><rect x="582.6" y="645.3" width="0.7" height="3.2" fill="#8d8d8d"/><rect x="584.6" y="645.3" width="0.7" height="3.2" fill="#8d8d8d"/><rect x="586.7" y="645.3" width="0.7" height="3.2" fill="#8d8d8d"/><rect x="588.8" y="645.3" width="0.7" height="3.2" fill="#8d8d8d"/><rect x="590.8" y="645.3" width="0.7" height="3.2" fill="#8d8d8d"/><rect x="592.9" y="645.3" width="0.7" height="3.2" fill="#8d8d8d"/><rect x="595.0" y="645.3" width="0.7" height="3.2" fill="#8d8d8d"/><rect x="597.1" y="645.3" width="0.7" height="3.2" fill="#8d8d8d"/><rect x="599.1" y="645.3" width="0.7" height="3.2" fill="#8d8d8d"/><rect x="601.2" y="645.3" width="0.7" height="3.2" fill="#8d8d8d"/><rect x="603.3" y="645.3" width="0.7" height="3.2" fill="#8d8d8d"/><rect x="605.3" y="645.3" width="0.7" height="3.2" fill="#8d8d8d"/><rect x="607.4" y="645.3" width="0.7" height="3.2" fill="#8d8d8d"/><rect x="609.5" y="645.3" width="0.7" height="3.2" fill="#8d8d8d"/><rect x="611.5" y="645.3" width="0.7" height="3.2" fill="#8d8d8d"/><rect x="613.6" y="645.3" width="0.7" height="3.2" fill="#8d8d8d"/><rect x="615.7" y="645.3" width="0.7" height="3.2" fill="#8d8d8d"/><rect x="617.8" y="645.3" width="0.7" height="3.2" fill="#8d8d8d"/><rect x="619.8" y="645.3" width="0.7" height="3.2" fill="#8d8d8d"/><rect x="621.9" y="645.3" width="0.7" height="3.2" fill="#8d8d8d"/><rect x="624.0" y="645.3" width="0.7" height="3.2" fill="#8d8d8d"/><rect x="626.0" y="645.3" width="0.7" height="3.2" fill="#8d8d8d"/><rect x="628.1" y="645.3" width="0.7" height="3.2" fill="#8d8d8d"/><rect x="630.2" y="645.3" width="0.7" height="3.2" fill="#8d8d8d"/><rect x="632.2" y="645.3" width="0.7" height="3.2" fill="#8d8d8d"/><rect x="634.3" y="645.3" width="0.7" height="3.2" fill="#8d8d8d"/><rect x="636.4" y="645.3" width="0.7" height="3.2" fill="#8d8d8d"/><rect x="638.5" y="645.3" width="0.7" height="3.2" fill="#8d8d8d"/><rect x="640.5" y="645.3" width="0.7" height="3.2" fill="#8d8d8d"/><rect x="642.6" y="645.3" width="0.7" height="3.2" fill="#8d8d8d"/><rect x="644.7" y="645.3" width="0.7" height="3.2" fill="#8d8d8d"/><rect x="646.7" y="645.3" width="0.7" height="3.2" fill="#8d8d8d"/><rect x="648.8" y="645.3" width="0.7" height="3.2" fill="#8d8d8d"/><rect x="650.9" y="645.3" width="0.7" height="3.2" fill="#8d8d8d"/><rect x="652.9" y="645.3" width="0.7" height="3.2" fill="#8d8d8d"/><rect x="655.0" y="645.3" width="0.7" height="3.2" fill="#8d8d8d"/><rect x="657.1" y="645.3" width="0.7" height="3.2" fill="#8d8d8d"/><rect x="659.2" y="645.3" width="0.7" height="3.2" fill="#8d8d8d"/><rect x="661.2" y="645.3" width="0.7" height="3.2" fill="#8d8d8d"/><rect x="663.3" y="645.3" width="0.7" height="3.2" fill="#8d8d8d"/><rect x="665.4" y="645.3" width="0.7" height="3.2" fill="#8d8d8d"/><rect x="667.4" y="645.3" width="0.7" height="3.2" fill="#8d8d8d"/><rect x="669.5" y="645.3" width="0.7" height="3.2" fill="#8d8d8d"/><rect x="671.6" y="645.3" width="0.7" height="3.2" fill="#8d8d8d"/><rect x="673.6" y="645.3" width="0.7" height="3.2" fill="#8d8d8d"/><rect x="675.7" y="645.3" width="0.7" height="3.2" fill="#8d8d8d"/><rect x="677.8" y="645.3" width="0.7" height="3.2" fill="#8d8d8d"/><rect x="679.9" y="645.3" width="0.7" height="3.2" fill="#8d8d8d"/><rect x="681.9" y="645.3" width="0.7" height="3.2" fill="#8d8d8d"/><rect x="684.0" y="645.3" width="0.7" height="3.2" fill="#8d8d8d"/><rect x="686.1" y="645.3" width="0.7" height="3.2" fill="#8d8d8d"/><rect x="688.1" y="645.3" width="0.7" height="3.2" fill="#8d8d8d"/><rect x="690.2" y="645.3" width="0.7" height="3.2" fill="#8d8d8d"/><rect x="692.3" y="645.3" width="0.7" height="3.2" fill="#8d8d8d"/><rect x="694.3" y="645.3" width="0.7" height="3.2" fill="#8d8d8d"/><rect x="696.4" y="645.3" width="0.7" height="3.2" fill="#8d8d8d"/><rect x="698.5" y="645.3" width="0.7" height="3.2" fill="#8d8d8d"/><rect x="700.6" y="645.3" width="0.7" height="3.2" fill="#8d8d8d"/><rect x="702.6" y="645.3" width="0.7" height="3.2" fill="#8d8d8d"/><rect x="704.7" y="645.3" width="0.7" height="3.2" fill="#8d8d8d"/><rect x="706.8" y="645.3" width="0.7" height="3.2" fill="#8d8d8d"/><rect x="708.8" y="645.3" width="0.7" height="3.2" fill="#8d8d8d"/><rect x="710.9" y="645.3" width="0.7" height="3.2" fill="#8d8d8d"/><rect x="713.0" y="645.3" width="0.7" height="3.2" fill="#8d8d8d"/><rect x="715.0" y="645.3" width="0.7" height="3.2" fill="#8d8d8d"/><rect x="717.1" y="645.3" width="0.7" height="3.2" fill="#8d8d8d"/><rect x="719.2" y="645.3" width="0.7" height="3.2" fill="#8d8d8d"/><rect x="721.3" y="645.3" width="0.7" height="3.2" fill="#8d8d8d"/><rect x="723.3" y="645.3" width="0.7" height="3.2" fill="#8d8d8d"/><rect x="725.4" y="645.3" width="0.7" height="3.2" fill="#8d8d8d"/><rect x="727.5" y="645.3" width="0.7" height="3.2" fill="#8d8d8d"/><rect x="729.5" y="645.3" width="0.7" height="3.2" fill="#8d8d8d"/><rect x="731.6" y="645.3" width="0.7" height="3.2" fill="#8d8d8d"/><rect x="733.7" y="645.3" width="0.7" height="3.2" fill="#8d8d8d"/><rect x="584.9" y="648.5" width="0.9" height="7" fill="#666"/><rect x="574.6" y="648.5" width="0.8" height="4" fill="#888"/><text x="582.3" y="659.7" font-family="Liberation Sans" font-weight="bold" font-size="9" text-anchor="middle" fill="#2a2a2a">1</text><rect x="605.6" y="648.5" width="0.9" height="7" fill="#666"/><rect x="595.2" y="648.5" width="0.8" height="4" fill="#888"/><text x="603.0" y="659.7" font-family="Liberation Sans" font-weight="bold" font-size="9" text-anchor="middle" fill="#2a2a2a">2</text><rect x="626.3" y="648.5" width="0.9" height="7" fill="#666"/><rect x="616.0" y="648.5" width="0.8" height="4" fill="#888"/><text x="623.7" y="659.7" font-family="Liberation Sans" font-weight="bold" font-size="9" text-anchor="middle" fill="#2a2a2a">3</text><rect x="647.0" y="648.5" width="0.9" height="7" fill="#666"/><rect x="636.6" y="648.5" width="0.8" height="4" fill="#888"/><text x="644.4" y="659.7" font-family="Liberation Sans" font-weight="bold" font-size="9" text-anchor="middle" fill="#2a2a2a">4</text><rect x="667.7" y="648.5" width="0.9" height="7" fill="#666"/><rect x="657.4" y="648.5" width="0.8" height="4" fill="#888"/><text x="665.1" y="659.7" font-family="Liberation Sans" font-weight="bold" font-size="9" text-anchor="middle" fill="#2a2a2a">5</text><rect x="688.4" y="648.5" width="0.9" height="7" fill="#666"/><rect x="678.0" y="648.5" width="0.8" height="4" fill="#888"/><text x="685.8" y="659.7" font-family="Liberation Sans" font-weight="bold" font-size="9" text-anchor="middle" fill="#2a2a2a">6</text><rect x="709.1" y="648.5" width="0.9" height="7" fill="#666"/><rect x="698.8" y="648.5" width="0.8" height="4" fill="#888"/><text x="706.5" y="659.7" font-family="Liberation Sans" font-weight="bold" font-size="9" text-anchor="middle" fill="#2a2a2a">7</text><rect x="729.8" y="648.5" width="0.9" height="7" fill="#666"/><rect x="719.5" y="648.5" width="0.8" height="4" fill="#888"/><text x="727.2" y="659.7" font-family="Liberation Sans" font-weight="bold" font-size="9" text-anchor="middle" fill="#2a2a2a">8</text><text x="568" y="661" font-family="Liberation Sans" font-size="5" fill="#444">mm</text><rect x="617.0" y="667.3" width="0.9" height="11" fill="#777"/><text x="612.8" y="677" font-family="Liberation Sans" font-size="12" text-anchor="middle" fill="#1e1e1e">1</text><rect x="668.7" y="667.3" width="0.9" height="11" fill="#777"/><text x="664.5" y="677" font-family="Liberation Sans" font-size="12" text-anchor="middle" fill="#1e1e1e">2</text><rect x="722.0" y="667.3" width="0.9" height="11" fill="#777"/><text x="717.8" y="677" font-family="Liberation Sans" font-size="12" text-anchor="middle" fill="#1e1e1e">3</text><rect x="567.0" y="680.5" width="3" height="6" rx="1.4" fill="#f4f4f4"/><rect x="568.0" y="678" width="0.9" height="6" fill="#777"/><rect x="573.6" y="680.5" width="3" height="6" rx="1.4" fill="#f4f4f4"/><rect x="574.6" y="678" width="0.9" height="4" fill="#777"/><rect x="580.1" y="680.5" width="3" height="6" rx="1.4" fill="#f4f4f4"/><rect x="581.1" y="678" width="0.9" height="4" fill="#777"/><rect x="586.7" y="680.5" width="3" height="6" rx="1.4" fill="#f4f4f4"/><rect x="587.7" y="678" width="0.9" height="4" fill="#777"/><rect x="593.2" y="680.5" width="3" height="6" rx="1.4" fill="#f4f4f4"/><rect x="594.2" y="678" width="0.9" height="6" fill="#777"/><rect x="599.8" y="680.5" width="3" height="6" rx="1.4" fill="#f4f4f4"/><rect x="600.8" y="678" width="0.9" height="4" fill="#777"/><rect x="606.4" y="680.5" width="3" height="6" rx="1.4" fill="#f4f4f4"/><rect x="607.4" y="678" width="0.9" height="4" fill="#777"/><rect x="612.9" y="680.5" width="3" height="6" rx="1.4" fill="#f4f4f4"/><rect x="613.9" y="678" width="0.9" height="4" fill="#777"/><rect x="619.5" y="680.5" width="3" height="6" rx="1.4" fill="#f4f4f4"/><rect x="620.5" y="678" width="0.9" height="6" fill="#777"/><rect x="626.0" y="680.5" width="3" height="6" rx="1.4" fill="#f4f4f4"/><rect x="627.0" y="678" width="0.9" height="4" fill="#777"/><rect x="632.6" y="680.5" width="3" height="6" rx="1.4" fill="#f4f4f4"/><rect x="633.6" y="678" width="0.9" height="4" fill="#777"/><rect x="639.2" y="680.5" width="3" height="6" rx="1.4" fill="#f4f4f4"/><rect x="640.2" y="678" width="0.9" height="4" fill="#777"/><rect x="645.7" y="680.5" width="3" height="6" rx="1.4" fill="#f4f4f4"/><rect x="646.7" y="678" width="0.9" height="6" fill="#777"/><rect x="652.3" y="680.5" width="3" height="6" rx="1.4" fill="#f4f4f4"/><rect x="653.3" y="678" width="0.9" height="4" fill="#777"/><rect x="658.8" y="680.5" width="3" height="6" rx="1.4" fill="#f4f4f4"/><rect x="659.8" y="678" width="0.9" height="4" fill="#777"/><rect x="665.4" y="680.5" width="3" height="6" rx="1.4" fill="#f4f4f4"/><rect x="666.4" y="678" width="0.9" height="4" fill="#777"/><rect x="672.0" y="680.5" width="3" height="6" rx="1.4" fill="#f4f4f4"/><rect x="673.0" y="678" width="0.9" height="6" fill="#777"/><rect x="678.5" y="680.5" width="3" height="6" rx="1.4" fill="#f4f4f4"/><rect x="679.5" y="678" width="0.9" height="4" fill="#777"/><rect x="685.1" y="680.5" width="3" height="6" rx="1.4" fill="#f4f4f4"/><rect x="686.1" y="678" width="0.9" height="4" fill="#777"/><rect x="691.6" y="680.5" width="3" height="6" rx="1.4" fill="#f4f4f4"/><rect x="692.6" y="678" width="0.9" height="4" fill="#777"/><rect x="698.2" y="680.5" width="3" height="6" rx="1.4" fill="#f4f4f4"/><rect x="699.2" y="678" width="0.9" height="6" fill="#777"/><rect x="704.8" y="680.5" width="3" height="6" rx="1.4" fill="#f4f4f4"/><rect x="705.8" y="678" width="0.9" height="4" fill="#777"/><rect x="711.3" y="680.5" width="3" height="6" rx="1.4" fill="#f4f4f4"/><rect x="712.3" y="678" width="0.9" height="4" fill="#777"/><rect x="717.9" y="680.5" width="3" height="6" rx="1.4" fill="#f4f4f4"/><rect x="718.9" y="678" width="0.9" height="4" fill="#777"/><rect x="724.4" y="680.5" width="3" height="6" rx="1.4" fill="#f4f4f4"/><rect x="725.4" y="678" width="0.9" height="6" fill="#777"/><rect x="731.0" y="680.5" width="3" height="6" rx="1.4" fill="#f4f4f4"/><rect x="732.0" y="678" width="0.9" height="4" fill="#777"/></svg>
<div class="c" style="left:-1.5px;width:300px;top:733.5px;font:19.5px/25px 'Liberation Sans', sans-serif;letter-spacing:0.65px;padding-left:1.3px;color:#1a1a1a">Prepare a slip of paper<br>and tie it on your finger.</div>
<div class="c" style="left:249px;width:300px;top:733.5px;font:19.5px/25px 'Liberation Sans', sans-serif;letter-spacing:0.65px;padding-left:1.3px;color:#1a1a1a">Mark on the junction<br>on the paper.</div>
<div class="c" style="left:497.5px;width:300px;top:733.5px;font:19.5px/25px 'Liberation Sans', sans-serif;letter-spacing:0.65px;padding-left:1.3px;color:#1a1a1a">Measure the length then<br>get the circumference.</div>
</body></html>
